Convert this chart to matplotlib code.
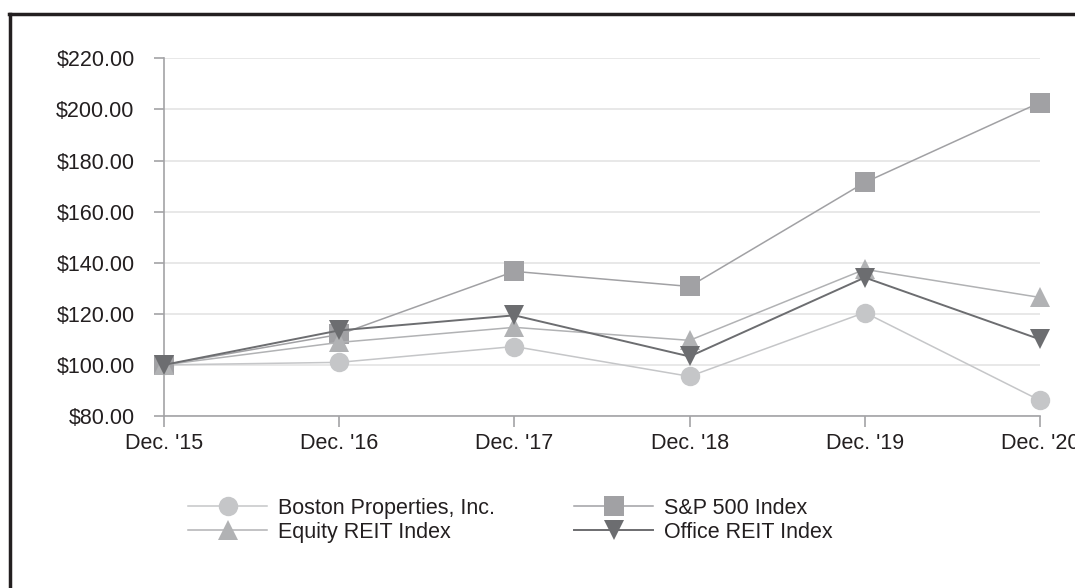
import matplotlib
matplotlib.use("Agg")
import matplotlib.pyplot as plt
from matplotlib.lines import Line2D

plt.rcParams["font.family"] = ["Liberation Sans", "DejaVu Sans"]

# 配当込み累積リターン（読み取り値）
years = ["Dec. '15", "Dec. '16", "Dec. '17", "Dec. '18", "Dec. '19", "Dec. '20"]
boston = [100.0, 101.0, 107.2, 95.5, 120.5, 86.1]
sp500 = [100.0, 111.9, 136.6, 130.7, 171.4, 202.7]
equity_reit = [100.0, 108.8, 114.7, 109.6, 137.4, 126.4]
office_reit = [100.0, 113.5, 119.4, 103.3, 134.2, 110.0]
y_ticks = [80, 100, 120, 140, 160, 180, 200, 220]

text_color = "#231f20"
axis_color = "#a3a3a6"
fs = 15.5

fig = plt.figure(figsize=(10.75, 5.88), dpi=100)
ax = fig.add_axes([164 / 1075, 1 - 416 / 588, (1040 - 164) / 1075, (416 - 58.3) / 588])

x = list(range(len(years)))
series = [
    ("Boston Properties, Inc.", boston, "#c5c6c8", "o", 14),
    ("S&P 500 Index", sp500, "#a1a1a4", "s", 14),
    ("Equity REIT Index", equity_reit, "#b1b2b4", "^", 14),
    ("Office REIT Index", office_reit, "#6c6d70", "v", 14),
]
lines = {}
for label, vals, col, mk, ms in series:
    lw = 1.4 if mk == "v" else 1.1
    ln, = ax.plot(x, vals, color=col, marker=mk, markersize=ms, lw=lw,
                  markeredgewidth=0, clip_on=False, zorder=3, label=label)
    lines[label] = ln

ax.set_xlim(0, 5)
ax.set_ylim(80, 220)
ax.set_yticks(y_ticks)
ax.set_yticklabels(["${:.2f}".format(v) for v in y_ticks])
ax.set_xticks(x)
ax.set_xticklabels(years)

ax.grid(axis="y", color="#e4e4e4", lw=1.2, zorder=0)
ax.set_axisbelow(True)
for s in ["top", "right"]:
    ax.spines[s].set_visible(False)
for s in ["left", "bottom"]:
    ax.spines[s].set_color(axis_color)
    ax.spines[s].set_linewidth(1.2)
ax.tick_params(axis="y", length=7.2, width=1.2, color=axis_color, pad=14,
               labelsize=fs, labelcolor=text_color)
ax.tick_params(axis="x", length=8, width=1.2, color=axis_color, pad=4.5,
               labelsize=fs, labelcolor=text_color)

# 凡例（2列）
order = ["Boston Properties, Inc.", "Equity REIT Index", "S&P 500 Index", "Office REIT Index"]
fig.legend([lines[k] for k in order], order, ncol=2, frameon=False,
           loc="upper left", bbox_to_anchor=(188 / 1075, 1 - 498 / 588),
           fontsize=fs, handlelength=3.67, handletextpad=0.5,
           columnspacing=3.7, labelspacing=0.14, markerscale=1.0,
           borderpad=0, borderaxespad=0, labelcolor=text_color)

# 外枠（左と上のみ）
fig.add_artist(Line2D([10 / 1075, 10 / 1075], [0, 1 - 14 / 588], color=text_color, lw=2.5,
                      transform=fig.transFigure))
fig.add_artist(Line2D([9 / 1075, 1], [1 - 14 / 588, 1 - 14 / 588], color=text_color, lw=2.5,
                      transform=fig.transFigure))

fig.savefig("out.png", dpi=100)
